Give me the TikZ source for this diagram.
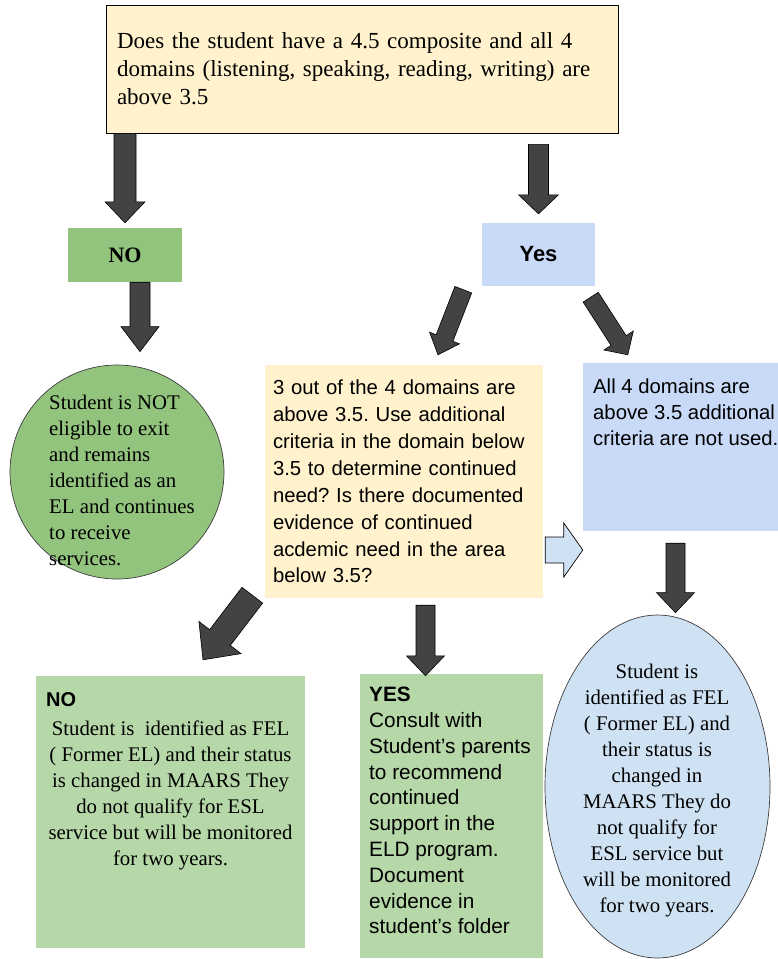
\documentclass[tikz,border=0pt]{standalone}
\usepackage{fontspec}
\setmainfont{Liberation Serif}
\setsansfont{Liberation Sans}
\usetikzlibrary{shapes.geometric, calc}
\frenchspacing
\definecolor{paleyellow}{HTML}{FFF2CC}
\definecolor{nogreen}{HTML}{93C47D}
\definecolor{felgreen}{HTML}{B6D7A8}
\definecolor{yesblue}{HTML}{C9DAF8}
\definecolor{felblue}{HTML}{CFE2F3}
\definecolor{arrowgray}{HTML}{434343}
\definecolor{rimgray}{HTML}{3C3C3C}

% fat block arrow: [style]{start}{tip}{half shaft}{half head}{head length}
\newcommand{\blockarrow}[6][]{%
  \path #2 coordinate (ba-s) #3 coordinate (ba-e);
  \coordinate (ba-b) at ($(ba-e)!#6pt!(ba-s)$);
  \draw[fatarrow, #1] ($(ba-s)!#4pt!90:(ba-e)$) -- ($(ba-b)!#4pt!90:(ba-e)$)
    -- ($(ba-b)!#5pt!90:(ba-e)$) -- (ba-e) -- ($(ba-b)!#5pt!-90:(ba-e)$)
    -- ($(ba-b)!#4pt!-90:(ba-e)$) -- ($(ba-s)!#4pt!-90:(ba-e)$) -- cycle;
}

\begin{document}
\begin{tikzpicture}[
    x=1pt, y=-1pt,
    bodyserif/.style={font=\fontsize{20.8}{26}\selectfont},
    bodysans/.style={font=\sffamily\fontsize{20.3}{26}\selectfont},
    fatarrow/.style={fill=arrowgray, draw=black, line width=0.6pt, line join=miter},
]

% Page
\useasboundingbox (0,0) rectangle (778,959);

% --- Top: question ---
\node[draw=black, line width=0.8pt, fill=paleyellow, minimum width=512pt, minimum height=128pt,
      text width=490pt, inner xsep=11pt, align=left, font=\fontsize{23}{28}\selectfont]
      (question) at (362,69) {Does the student have a 4.5 composite and all 4\\
      domains (listening, speaking, reading, writing) are\\ above 3.5};

% --- Left branch: NO ---
\node[fill=nogreen, minimum width=114pt, minimum height=54pt, font=\bfseries\fontsize{22}{26}\selectfont]
      (nobox) at (125,255) {NO};

\node[circle, fill=nogreen, draw=rimgray, line width=0.7pt, minimum size=214pt, inner sep=0pt]
      (notexit) at (117,472) {};
\node[bodyserif, align=left, inner sep=0pt] (notexittext) at (122,480)
      {Student is NOT\\ eligible to exit\\ and remains\\ identified as an\\ EL and continues\\ to receive\\ services.};

% --- Right branch: Yes ---
\node[fill=yesblue, minimum width=113pt, minimum height=63pt, font=\sffamily\bfseries\fontsize{22}{26}\selectfont]
      (yesbox) at (538.5,254.5) {Yes};

\node[fill=paleyellow, minimum width=278pt, minimum height=233pt, text width=262pt, inner xsep=8pt,
      align=left, bodysans, font=\sffamily\fontsize{20.3}{26.9}\selectfont]
      (midbox) at (404,481.5) {3 out of the 4 domains are\\ above 3.5. Use additional\\
      criteria in the domain below\\ 3.5 to determine continued\\ need? Is there documented\\
      evidence of continued\\ acdemic need in the area\\ below 3.5?};

\node[fill=yesblue, minimum width=195pt, minimum height=168pt] (allfour) at (680.5,447) {};
\node[bodysans, align=left, inner sep=0pt, anchor=north west] (allfourtext) at (593,379)
      {All 4 domains are\\ above 3.5 additional\\ criteria are not used.};

% --- Bottom row ---
\node[fill=felgreen, minimum width=269pt, minimum height=272pt] (nofel) at (170.5,812) {};
\node[anchor=north west, inner sep=0pt, font=\sffamily\bfseries\fontsize{20}{24}\selectfont]
      (nofeltag) at (46,692) {NO};
\node[bodyserif, align=center, inner sep=0pt, anchor=north] (nofeltext) at (170.5,721)
      {Student is\ \ identified as FEL\\ ( Former EL) and their status\\ is changed in MAARS They\\
      do not qualify for ESL\\ service but will be monitored\\ for two years.};

\node[fill=felgreen, minimum width=183pt, minimum height=284pt] (consult) at (451.5,816) {};
\node[align=left, inner sep=0pt, anchor=north west, font=\sffamily\fontsize{20.8}{25.8}\selectfont]
      (consulttext) at (369,687) {\textbf{YES}\\ Consult with\\ Student’s parents\\ to recommend\\
      continued\\ support in the\\ ELD program.\\ Document\\ evidence in\\ student’s folder};

\node[ellipse, fill=felblue, draw=rimgray, line width=0.7pt, minimum width=225pt, minimum height=343pt,
      inner sep=0pt] (felbubble) at (657.5,786.5) {};
\node[bodyserif, align=center, inner sep=0pt] (feltext) at (657,791)
      {Student is\\ identified as FEL\\ ( Former EL) and\\ their status is\\ changed in\\
      MAARS They do\\ not qualify for\\ ESL service but\\ will be monitored\\ for two years.};

% --- Arrows ---
\blockarrow{(question.south -| nobox.north)}{($(nobox.north)+(0,-5)$)}{11}{20}{21}
\blockarrow{($(nobox.south)+(15,0)$)}{($(notexit.north)+(23,-13)$)}{10}{19}{25}
\blockarrow{($(question.south -| yesbox.north)+(0,11)$)}{($(yesbox.north)+(0,-9)$)}{10}{20}{19}
\blockarrow{($(yesbox.south west)+(-18.5,3.5)$)}{($(midbox.north)+(34,-10)$)}{9}{16}{18}
\blockarrow{($(yesbox.south east)+(-4.5,11)$)}{($(allfour.north west)+(45,-8)$)}{9}{17.5}{17}
\blockarrow{($(midbox.south west)+(-12.5,-3)$)}{($(nofel.north)+(32.5,-16)$)}{13}{26.5}{28}
\blockarrow{($(midbox.south)+(21.5,7)$)}{($(consult.north)+(-26,2)$)}{9.5}{19}{20}
\blockarrow{($(allfour.south)+(-5,12)$)}{($(felbubble.north)+(18,-2)$)}{9.5}{19}{20}

% Side link
\blockarrow[fill=felblue, line width=0.7pt]{($(midbox.east)+(2,68.5)$)}{($(allfour.west)+(0,103)$)}{13}{27}{19}

\end{tikzpicture}
\end{document}
